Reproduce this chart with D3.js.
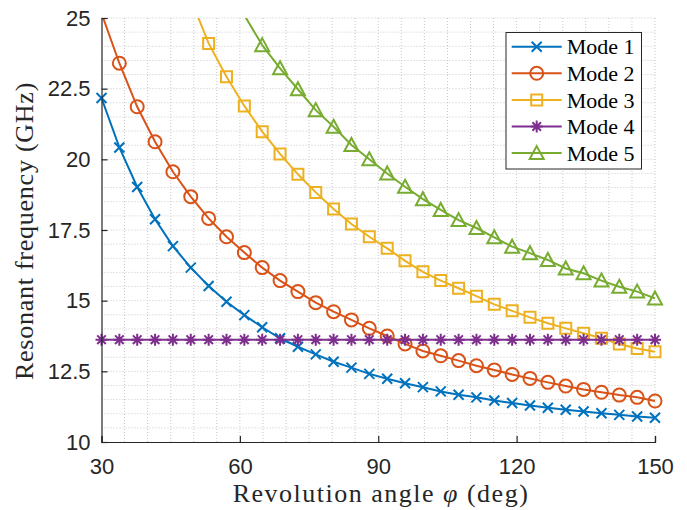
<!DOCTYPE html>
<html>
<head>
<meta charset="UTF-8">
<title>Resonant frequency vs revolution angle</title>
<script type="text/javascript" src="https://cdn.jsdelivr.net/npm/d3@7"></script>
<style>
  body { margin: 0; background: #fff; }
</style>
</head>
<body>
<script type="text/javascript">
  // revolution angle (deg), 32 samples
  var angles = [30, 33.87, 37.74, 41.61, 45.48, 49.35, 53.23, 57.10, 60.97, 64.84,
                68.71, 72.58, 76.45, 80.32, 84.19, 88.06, 91.94, 95.81, 99.68, 103.55,
                107.42, 111.29, 115.16, 119.03, 122.90, 126.77, 130.65, 134.52, 138.39,
                142.26, 146.13, 150];

  var mode1 = [22.17, 20.42, 19.02, 17.88, 16.93, 16.17, 15.52, 14.96, 14.49, 14.06,
               13.67, 13.37, 13.10, 12.84, 12.63, 12.41, 12.24, 12.08, 11.94, 11.79,
               11.67, 11.58, 11.47, 11.38, 11.29, 11.21, 11.14, 11.08, 11.02, 10.96,
               10.90, 10.86];
  var mode2 = [25.17, 23.40, 21.86, 20.62, 19.56, 18.68, 17.91, 17.26, 16.70, 16.17,
               15.71, 15.32, 14.93, 14.61, 14.32, 14.02, 13.75, 13.47, 13.22, 13.05,
               12.88, 12.70, 12.55, 12.39, 12.25, 12.11, 11.98, 11.86, 11.76, 11.66,
               11.58, 11.45];
  var mode3 = [null, null, null, null, null, 25.68, 24.10, 22.92, 21.89, 20.98,
               20.19, 19.47, 18.83, 18.24, 17.71, 17.26, 16.85, 16.41, 16.02, 15.71,
               15.44, 15.16, 14.87, 14.64, 14.41, 14.20, 14.02, 13.85, 13.67, 13.47,
               13.31, 13.19];
  var mode4 = [13.62, 13.62, 13.62, 13.62, 13.62, 13.62, 13.62, 13.62, 13.62, 13.62,
               13.62, 13.62, 13.62, 13.62, 13.62, 13.62, 13.62, 13.62, 13.62, 13.62,
               13.62, 13.62, 13.62, 13.62, 13.62, 13.62, 13.62, 13.62, 13.62, 13.62,
               13.62, 13.62];
  var mode5 = [null, null, null, null, null, null, null, null, 25.10, 24.04,
               23.22, 22.48, 21.74, 21.15, 20.51, 20.00, 19.50, 19.03, 18.59, 18.21,
               17.85, 17.57, 17.24, 16.91, 16.68, 16.44, 16.14, 15.97, 15.71, 15.49,
               15.32, 15.08];

  var seriesNames = ["Mode 1", "Mode 2", "Mode 3", "Mode 4", "Mode 5"];
  var xTicks = [30, 60, 90, 120, 150];
  var yTicks = [10, 12.5, 15, 17.5, 20, 22.5, 25];

  var colors = ["#0072BD", "#D95319", "#EDB120", "#7E2F8E", "#77AC30"];
  var markers = ["x", "o", "s", "*", "^"];

  var W = 687, H = 510;
  var pL = 101.5, pR = 655, pT = 18, pB = 442;

  var x = d3.scaleLinear().domain([30, 150]).range([pL, pR]);
  var y = d3.scaleLinear().domain([10, 25]).range([pB, pT]);

  var svg = d3.select("body").append("svg")
    .attr("width", W).attr("height", H);

  svg.append("defs").append("clipPath").attr("id", "plot")
    .append("rect")
    .attr("x", pL).attr("y", pT)
    .attr("width", pR - pL).attr("height", pB - pT);

  // grid, minor every 5 deg / 0.5 GHz, all dotted
  var grid = svg.append("g").attr("stroke", "#c8c8c8").attr("stroke-width", 1)
    .attr("stroke-dasharray", "1,2");
  grid.selectAll("line.gx").data(d3.range(35, 151, 5)).enter().append("line")
    .attr("x1", function(d){ return x(d); }).attr("x2", function(d){ return x(d); })
    .attr("y1", pT).attr("y2", pB);
  grid.selectAll("line.gy").data(d3.range(10.5, 25.01, 0.5)).enter().append("line")
    .attr("y1", function(d){ return y(d); }).attr("y2", function(d){ return y(d); })
    .attr("x1", pL).attr("x2", pR);

  // marker path builder
  function markerPath(type) {
    var p = d3.path();
    if (type === "x") {
      p.moveTo(-5, -5); p.lineTo(5, 5); p.moveTo(-5, 5); p.lineTo(5, -5);
    } else if (type === "o") {
      p.moveTo(6.5, 0); p.arc(0, 0, 6.5, 0, 2 * Math.PI);
    } else if (type === "s") {
      p.rect(-5.5, -5.5, 11, 11);
    } else if (type === "^") {
      p.moveTo(0, -7); p.lineTo(7, 6); p.lineTo(-7, 6); p.closePath();
    } else if (type === "*") {
      p.moveTo(0, -6); p.lineTo(0, 6); p.moveTo(-6, 0); p.lineTo(6, 0);
      p.moveTo(-4.3, -4.3); p.lineTo(4.3, 4.3); p.moveTo(-4.3, 4.3); p.lineTo(4.3, -4.3);
    }
    return p.toString();
  }

  var allSeries = [mode1, mode2, mode3, mode4, mode5];

  var line = d3.line()
    .defined(function(d){ return d[1] !== null; })
    .x(function(d){ return x(d[0]); })
    .y(function(d){ return y(d[1]); });

  allSeries.forEach(function(vals, i) {
    var pts = angles.map(function(a, k){ return [a, vals[k]]; });
    svg.append("path")
      .datum(pts)
      .attr("clip-path", "url(#plot)")
      .attr("fill", "none")
      .attr("stroke", colors[i])
      .attr("stroke-width", 2)
      .attr("d", line);

    svg.append("g").selectAll("path")
      .data(pts.filter(function(d){ return d[1] !== null && d[1] <= 25 && d[1] >= 10; }))
      .enter().append("path")
      .attr("transform", function(d){ return "translate(" + x(d[0]) + "," + y(d[1]) + ")"; })
      .attr("d", markerPath(markers[i]))
      .attr("fill", "none")
      .attr("stroke", colors[i])
      .attr("stroke-width", 2);
  });

  // axes
  var xAxis = d3.axisBottom(x).tickValues(xTicks).tickSize(-6).tickPadding(16.5)
    .tickFormat(function(d){ return String(d); });
  var yAxis = d3.axisLeft(y).tickValues(yTicks).tickSize(-6).tickPadding(11)
    .tickFormat(function(d){ return String(d); });

  var gx = svg.append("g").attr("transform", "translate(0," + pB + ")").call(xAxis);
  var gy = svg.append("g").attr("transform", "translate(" + pL + ",0)").call(yAxis);
  [gx, gy].forEach(function(g) {
    g.select(".domain").attr("stroke", "#262626").attr("stroke-width", 1.2);
    g.selectAll(".tick line").attr("stroke", "#262626").attr("stroke-width", 1.2);
    g.selectAll(".tick text").attr("fill", "#262626")
      .style("font-family", "'Liberation Sans', Arial, sans-serif")
      .style("font-size", "22px");
  });

  // axis labels
  var xl = svg.append("text")
    .attr("x", 381).attr("y", 502)
    .attr("text-anchor", "middle")
    .style("font-family", "'Liberation Serif', serif")
    .style("font-size", "26px")
    .style("letter-spacing", "1.5px")
    .attr("fill", "#262626");
  xl.append("tspan").text("Revolution angle ");
  xl.append("tspan").style("font-style", "italic").text("\u03C6");
  xl.append("tspan").text(" (deg)");

  svg.append("text")
    .attr("transform", "translate(33,231) rotate(-90)")
    .attr("text-anchor", "middle")
    .style("font-family", "'Liberation Serif', serif")
    .style("font-size", "26px")
    .style("letter-spacing", "0.75px")
    .attr("fill", "#262626")
    .text("Resonant frequency (GHz)");

  // legend
  var lg = svg.append("g");
  lg.append("rect")
    .attr("x", 506).attr("y", 32.5).attr("width", 135.5).attr("height", 136.5)
    .attr("fill", "#fff").attr("stroke", "#262626").attr("stroke-width", 1);
  seriesNames.forEach(function(name, i) {
    var ry = 46.7 + i * 26.6;
    lg.append("line")
      .attr("x1", 511.7).attr("x2", 561.7).attr("y1", ry).attr("y2", ry)
      .attr("stroke", colors[i]).attr("stroke-width", 2);
    lg.append("path")
      .attr("transform", "translate(536.7," + ry + ")")
      .attr("d", markerPath(markers[i]))
      .attr("fill", "none").attr("stroke", colors[i]).attr("stroke-width", 2);
    lg.append("text")
      .attr("x", 566.7).attr("y", ry).attr("dy", "0.35em")
      .style("font-family", "'Liberation Serif', serif")
      .style("font-size", "22px")
      .attr("fill", "#000")
      .text(name);
  });
</script>
</body>
</html>
